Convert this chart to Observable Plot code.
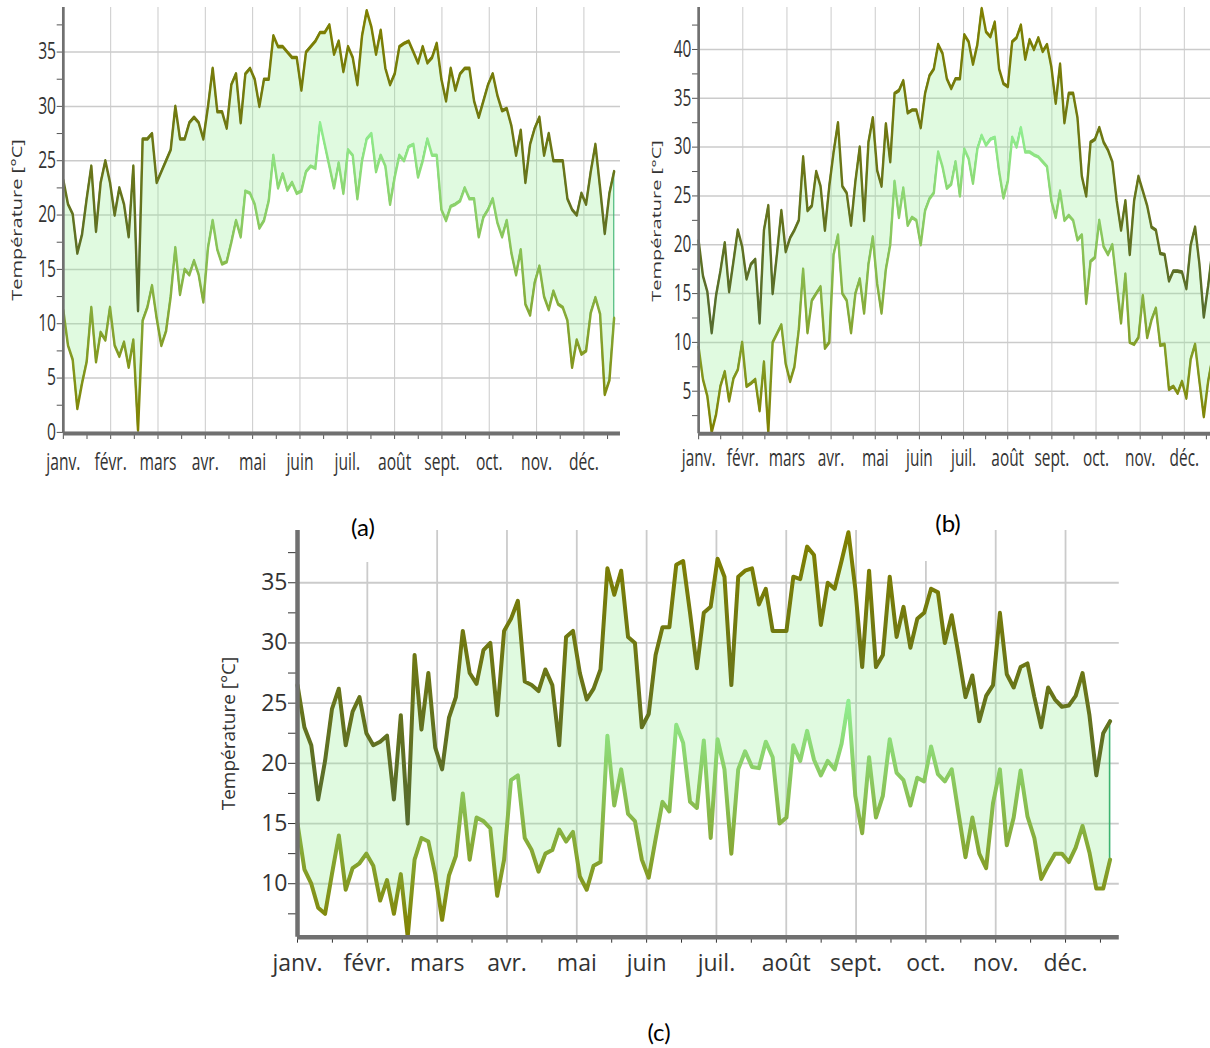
<!DOCTYPE html>
<html>
<head>
<meta charset="utf-8">
<script src="https://cdn.jsdelivr.net/npm/d3@7"></script>
<script src="https://cdn.jsdelivr.net/npm/@observablehq/plot@0.6"></script>
<style>
  html, body { margin: 0; padding: 0; background: #fff; }
  #page { position: relative; width: 1210px; height: 1048px; overflow: hidden; background: #fff; }
  .panel { position: absolute; transform-origin: 0 0; }
  .lab { position: absolute; background: #fff; text-align: center; font-family: Lato, "Open Sans", sans-serif; font-size: 24px; color: #000; line-height: 44px; }
</style>
</head>
<body>
<div id="page">
  <div id="pa" class="panel"></div>
  <div id="pb" class="panel"></div>
  <div id="pc" class="panel"></div>
  <div class="lab" style="left:332px;top:505px;width:62px;height:57px;">(a)</div>
  <div class="lab" style="left:918px;top:501px;width:60px;height:60px;">(b)</div>
  <div class="lab" style="left:629px;top:1010px;width:60px;height:44px;background:transparent;">(c)</div>
</div>
<script>
// ---------- data (one value every 3 days, from 1 January) ----------
const months = ["janv.", "févr.", "mars", "avr.", "mai", "juin", "juil.", "août", "sept.", "oct.", "nov.", "déc."];
const dayStep = 3;
const xDomain = [0, 358];
const yLabel = "Température [°C]";

// (a)
const maxA = [
  23.2, 21, 20.1, 16.5, 18.2, 21.5, 24.5, 18.5, 23, 25,
  23, 20, 22.5, 21, 18, 24.5, 11.2, 27, 27, 27.5,
  23, 24, 25, 26, 30, 27, 27, 28.5, 29, 28.5,
  27, 30, 33.5, 29.5, 29.5, 28, 32, 33, 28.5, 33,
  33.5, 32.5, 30, 32.5, 32.5, 36.5, 35.5, 35.5, 35, 34.5,
  34.5, 31.5, 35, 35.5, 36, 36.8, 36.8, 37.5, 34.8, 36,
  33.2, 35.5, 34.5, 32, 36.5, 38.8, 37.3, 34.8, 37, 33.5,
  32, 33, 35.5, 35.8, 36, 35, 34, 35.5, 34, 34.5,
  35.8, 32.5, 30.5, 33.5, 31.5, 33, 33.5, 33.5, 30.5, 29,
  30.5, 32, 33, 31, 29.6, 29.8, 28.2, 25.5, 27.8, 23,
  26.5, 28, 29, 25.5, 27.5, 25, 25, 25, 21.5, 20.5,
  20, 22, 21, 24, 26.5, 22.5, 18.3, 22, 24
];
const minA = [
  11.2, 8, 6.7, 2.2, 4.5, 6.5, 11.5, 6.5, 9.2, 8.5,
  11.5, 8, 7, 8.3, 6, 8.5, 0.2, 10.3, 11.5, 13.5,
  10.5, 8, 9.3, 12.5, 17, 12.7, 15, 14.5, 15.8, 14.5,
  12, 17, 19.5, 16.8, 15.5, 15.7, 17.5, 19.5, 18, 22.2,
  22, 21, 18.8, 19.5, 21.3, 25.5, 22.5, 23.8, 22.3, 23,
  22, 22.2, 24, 24.5, 24.3, 28.5, 26.5, 24.5, 22.5, 24.8,
  22, 26, 25.5, 21.5, 25, 27, 27.5, 24, 25.5, 24.5,
  21, 23.5, 25.5, 25, 26.3, 26.5, 23.5, 25, 27, 25.5,
  25.5, 20.5, 19.5, 20.8, 21, 21.3, 22.5, 21.5, 21.5, 18,
  19.8, 20.5, 21.5, 19.3, 18, 19.5, 16.5, 14.5, 16.8, 11.8,
  10.8, 13.8, 15.3, 12.5, 11.3, 13, 11.8, 11.5, 10.3, 6,
  8.5, 7.2, 7.5, 11, 12.4, 10.9, 3.5, 4.8, 10.5
];
const yTicksA = [0, 5, 10, 15, 20, 25, 30, 35];
const yDomainA = [-0.1, 39.1];

// (b)
const maxB = [
  20.4, 16.8, 15.2, 11, 14.8, 17.3, 20.2, 15.2, 18.3, 21.5,
  19.8, 16.5, 18, 18.5, 12, 21.5, 24, 15, 19.1, 23.5,
  19.3, 20.7, 21.5, 22.5, 29, 23.5, 24, 27.5, 26, 21.5,
  26, 29.5, 32.5, 26, 25.3, 22, 26.5, 30, 22.5, 30.5,
  33, 27.6, 26, 32.4, 28.5, 35.5, 35.8, 36.8, 33.5, 33.8,
  33.8, 32, 35.5, 37.3, 38, 40.5, 39.6, 37, 36, 37,
  37, 41.5, 40.8, 38.5, 40.5, 44.2, 41.8, 41.3, 42.8, 38,
  36.5, 36.2, 40.8, 41.2, 42.5, 39, 41, 40, 41.2, 39.8,
  40.5, 38.2, 34.5, 38.5, 32.5, 35.5, 35.5, 33, 27, 25,
  30.5, 30.8, 32, 30.5, 29.7, 28.5, 24.5, 21.5, 24.5, 19,
  24.5, 27, 25.5, 24, 21.8, 21.5, 19.1, 19, 16.3, 17.3,
  17.3, 17.2, 15.5, 20, 21.8, 18, 12.6, 15.8, 19.5
];
const minB = [
  9.5, 6.2, 4.5, 0.8, 2.6, 5.5, 7, 4, 6.3, 7.2,
  10, 5.5, 5.8, 6.2, 3, 8, 0.8, 10, 10.9, 11.8,
  7.8, 6, 7.5, 11.3, 17.5, 11, 14.3, 15, 15.7, 9.4,
  10, 19, 21, 15, 14.3, 11, 15, 16.5, 13, 18,
  20.8, 16, 13, 17.5, 20, 26.5, 22.8, 25.8, 22, 22.8,
  22.5, 20, 23.5, 24.7, 25.3, 29.5, 28, 25.8, 26.2, 28.5,
  25, 29.8, 28.8, 26.3, 29.8, 31.2, 30.2, 30.8, 31, 27.5,
  24.8, 26.5, 31, 30, 32, 29.5, 29.5, 29.2, 29, 28.5,
  28, 24.5, 22.8, 25.5, 22.5, 23, 22.5, 20.5, 21, 14,
  18.3, 18.7, 22.5, 19.8, 19, 20, 16, 12, 17, 10,
  9.8, 10.5, 14.8, 10.5, 12.3, 13.5, 9.7, 9.8, 5.2, 5.5,
  4.8, 6, 4.3, 8.3, 9.8, 6, 2.4, 6, 8.5
];
const yTicksB = [5, 10, 15, 20, 25, 30, 35, 40];
const yDomainB = [0.64, 44.3];

// (c)
const maxC = [
  26.5, 23, 21.5, 17, 20.2, 24.5, 26.2, 21.5, 24.3, 25.5,
  22.5, 21.5, 21.8, 22.3, 17, 24, 15, 29, 22.8, 27.5,
  21.3, 19.5, 23.8, 25.5, 31, 27.5, 26.6, 29.4, 30, 24,
  31, 32, 33.5, 26.8, 26.5, 26, 27.8, 26.5, 21.5, 30.5,
  31, 27.5, 25.3, 26.2, 27.8, 36.2, 34, 36, 30.5, 30,
  23, 24.1, 29, 31.3, 31.3, 36.5, 36.8, 32.5, 27.9, 32.5,
  33, 37, 35.5, 26.5, 35.5, 36, 36.2, 33.2, 34.5, 31,
  31, 31, 35.5, 35.3, 38, 37.3, 31.5, 35, 34.5, 36.8,
  39.2, 34.5, 28, 36, 28, 29, 35.5, 30.5, 33, 29.6,
  32, 32.5, 34.5, 34.2, 30, 32.3, 29, 25.5, 27.3, 23.5,
  25.6, 26.5, 32.5, 27.4, 26.3, 28, 28.3, 25.5, 23, 26.3,
  25.3, 24.7, 24.8, 25.6, 27.5, 24, 19, 22.5, 23.5
];
const minC = [
  15, 11.2, 10, 8, 7.5, 10.8, 14, 9.5, 11.3, 11.7,
  12.5, 11.5, 8.6, 10.3, 7.5, 10.8, 5.6, 12, 13.8, 13.5,
  10.8, 7, 10.7, 12.3, 17.5, 12, 15.5, 15.2, 14.6, 9,
  12, 18.6, 19, 13.8, 12.8, 11, 12.5, 12.8, 14.5, 13.5,
  14.3, 10.6, 9.5, 11.5, 11.8, 22.3, 16.5, 19.5, 15.8, 15.2,
  12, 10.5, 13.7, 16.8, 16, 23.2, 21.7, 16.8, 16.3, 21.9,
  13.8, 22, 19.5, 12.5, 19.5, 21, 19.7, 19.6, 21.8, 20.5,
  15, 15.5, 21.5, 20.2, 22.7, 20.3, 19, 20.2, 19.5, 21.6,
  25.2, 17.3, 14.2, 20.5, 15.5, 17.3, 22, 19.2, 18.6, 16.5,
  18.8, 18.5, 21.4, 19.1, 18.5, 19.5, 15.8, 12.2, 15.5, 12.5,
  11.3, 16.7, 19.5, 13.2, 15.5, 19.4, 15.6, 13.8, 10.4, 11.5,
  12.5, 12.5, 11.8, 13, 14.8, 12.6, 9.6, 9.6, 12
];
const yTicksC = [10, 15, 20, 25, 30, 35];
const yDomainC = [5.56, 39.34];

// ---------- drawing ----------
const monthLen = 365 / 12;

function panel(cfg) {
  const s = cfg.s;
  const rows = cfg.maxV.map((v, i) => ({day: i * dayStep, max: v, min: cfg.minV[i]}));
  const mL = (cfg.axisX - cfg.pageLeft) / s;
  const mR = 8;
  const width = (cfg.axisEnd - cfg.pageLeft) / s + mR;
  const monthTicks = months.map((m, i) => i * monthLen);
  const xTicks = d3.range(24).map(i => i * monthLen / 2).filter(d => d <= xDomain[1]);
  const yAll = d3.range(Math.ceil(cfg.yDomain[0] / 2.5), Math.floor(cfg.yDomain[1] / 2.5) + 1).map(k => k * 2.5);

  const chart = Plot.plot({
    width: width,
    height: cfg.height,
    marginLeft: mL,
    marginRight: mR,
    marginTop: cfg.top - cfg.pageTop,
    marginBottom: cfg.pageTop + cfg.height - cfg.bottom,
    style: {
      fontFamily: "'Open Sans', sans-serif",
      fontSize: cfg.font + "px",
      color: "#333",
      background: "transparent",
      maxWidth: "none",
      overflow: "visible"
    },
    x: {
      domain: xDomain,
      ticks: xTicks,
      tickFormat: d => { const i = Math.round(d / (monthLen / 2)); return i % 2 === 0 ? months[i / 2] : ""; },
      tickSize: 6,
      tickPadding: cfg.xPad,
      label: null
    },
    y: {
      domain: cfg.yDomain,
      ticks: yAll,
      tickFormat: d => (Math.round(d * 2) % 10 === 0 ? String(d) : ""),
      tickSize: cfg.yTick / s,
      tickPadding: cfg.yPad / s,
      label: null
    },
    marks: [
      Plot.ruleX(monthTicks, {stroke: "#cbcbcb", strokeWidth: cfg.gridW}),
      Plot.ruleY(cfg.yMajor, {stroke: "#cbcbcb", strokeWidth: cfg.gridW}),
      Plot.areaY(rows, {x: "day", y1: "min", y2: "max", fill: "#90ee90", fillOpacity: 0.28, stroke: "#3cb371", strokeWidth: 1.6}),
      Plot.line(rows, {x: "day", y: "max", stroke: "#010101", strokeWidth: cfg.lineW, strokeLinejoin: "round"}),
      Plot.line(rows, {x: "day", y: "min", stroke: "#020202", strokeWidth: cfg.lineW, strokeLinejoin: "round"}),
      Plot.ruleX([xDomain[0]], {stroke: "#707070", strokeWidth: cfg.axisW}),
      Plot.ruleY([cfg.yDomain[0]], {stroke: "#707070", strokeWidth: cfg.axisW})
    ]
  });

  const svg = d3.select(chart);
  const defs = svg.insert("defs", ":first-child");
  function grad(id, cTop, cBottom) {
    const g = defs.append("linearGradient").attr("id", id)
      .attr("x1", 0).attr("y1", 0).attr("x2", 0).attr("y2", 1);
    g.append("stop").attr("offset", 0).attr("stop-color", cTop);
    g.append("stop").attr("offset", 1).attr("stop-color", cBottom);
  }
  grad("g" + cfg.id + "max", "#808000", "#556b2f");
  grad("g" + cfg.id + "min", "#90ee90", "#808000");
  svg.selectAll('[stroke="#010101"]').attr("stroke", `url(#g${cfg.id}max)`);
  svg.selectAll('[stroke="#020202"]').attr("stroke", `url(#g${cfg.id}min)`);

  svg.append("text")
    .attr("transform", `translate(${(cfg.titleX - cfg.pageLeft) / s},${cfg.titleY - cfg.pageTop}) rotate(-90)`)
    .attr("text-anchor", "middle")
    .attr("dy", "0.35em")
    .attr("fill", "#333")
    .style("font-family", "'Open Sans', sans-serif")
    .style("font-size", cfg.titleSize + "px")
    .text(yLabel);

  const holder = document.getElementById(cfg.holder);
  holder.style.left = cfg.pageLeft + "px";
  holder.style.top = cfg.pageTop + "px";
  holder.style.width = width + "px";
  holder.style.transform = `scaleX(${s})`;
  holder.appendChild(chart);
}

panel({id: "a", holder: "pa", maxV: maxA, minV: minA, yDomain: yDomainA, yMajor: yTicksA,
  s: 0.68, pageLeft: 0, pageTop: 0, axisX: 63, axisEnd: 620, top: 7, bottom: 433, height: 480,
  font: 23, titleSize: 20, titleX: 17.5, titleY: 220, lineW: 3.6, gridW: 1.5, axisW: 4,
  xPad: 14, yTick: 6.3, yPad: 1});

panel({id: "b", holder: "pb", maxV: maxB, minV: minB, yDomain: yDomainB, yMajor: yTicksB,
  s: 0.67, pageLeft: 640, pageTop: 0, axisX: 698.3, axisEnd: 1218, top: 7, bottom: 433.3, height: 480,
  font: 23, titleSize: 20, titleX: 656, titleY: 221, lineW: 3.6, gridW: 1.5, axisW: 4,
  xPad: 10, yTick: 6.3, yPad: 1});

panel({id: "c", holder: "pc", maxV: maxC, minV: minC, yDomain: yDomainC, yMajor: yTicksC,
  s: 1, pageLeft: 200, pageTop: 520, axisX: 297, axisEnd: 1118.8, top: 530, bottom: 936.7, height: 470,
  font: 23, titleSize: 19, titleX: 228, titleY: 733.5, lineW: 4, gridW: 1.8, axisW: 4.5,
  xPad: 11, yTick: 9, yPad: 1});
</script>
</body>
</html>
